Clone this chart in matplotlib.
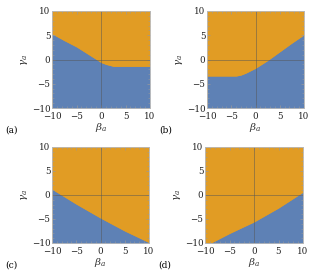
import numpy as np
import matplotlib
matplotlib.use("Agg")
import matplotlib.pyplot as plt
from matplotlib.ticker import MultipleLocator

# Boundary curves gamma_a(beta_a): blue region below, orange above
beta_a = [-10, -7.5, -5, -2.5, 0, 1, 2.5, 5, 7.5, 10]
gamma_a_boundary = [5.3, 3.9, 2.6, 1.0, -0.6, -1.0, -1.4, -1.4, -1.4, -1.4]

beta_b = [-10, -4, -3, -2, 0, 2.5, 5, 7.5, 10]
gamma_b_boundary = [-3.4, -3.4, -3.2, -2.8, -1.8, -0.2, 1.6, 3.4, 5.1]

beta_c = [-10, -5, 0, 5, 10]
gamma_c_boundary = [1.2, -1.9, -4.8, -7.5, -9.9]

beta_d = [-10, -8.8, -5, 0, 5, 10]
gamma_d_boundary = [-10.6, -10.0, -8.0, -5.6, -2.7, 0.6]

panel_labels = ["(a)", "(b)", "(c)", "(d)"]
ticks = [-10, -5, 0, 5, 10]
tick_labels = ["\u221210", "\u22125", "0", "5", "10"]

BLUE = "#5E81B5"
ORANGE = "#E19C24"

plt.rcParams['font.family'] = ['DejaVu Serif']
plt.rcParams['mathtext.fontset'] = 'dejavuserif'
fig = plt.figure(figsize=(3.15, 2.75), dpi=100)

rects = [
    (52/315, 1-108/275, 98/315, 97/275),
    (207/315, 1-108/275, 97/315, 97/275),
    (52/315, 1-243/275, 97/315, 96/275),
    (205/315, 1-243/275, 98/315, 96/275),
]
data = [(beta_a, gamma_a_boundary), (beta_b, gamma_b_boundary),
        (beta_c, gamma_c_boundary), (beta_d, gamma_d_boundary)]
label_pos = [(5/315, 1-130/275), (159/315, 1-130/275),
             (5/315, 1-265/275), (158/315, 1-265/275)]

for rect, (bx, gy), lab, lp in zip(rects, data, panel_labels, label_pos):
    ax = fig.add_axes(rect)
    ax.set_facecolor(ORANGE)
    ax.fill_between(bx, -12, gy, color=BLUE, lw=0)
    ax.fill_between(bx, gy, 12, color=ORANGE, lw=0)
    ax.axhline(0, color="#555555", lw=0.5, alpha=0.7)
    ax.axvline(0, color="#555555", lw=0.5, alpha=0.7)
    ax.set_xlim(-10, 10)
    ax.set_ylim(-10, 10)
    ax.set_xticks(ticks)
    ax.set_xticklabels(tick_labels)
    ax.set_yticks(ticks)
    ax.set_yticklabels(tick_labels)
    ax.xaxis.set_minor_locator(MultipleLocator(1))
    ax.yaxis.set_minor_locator(MultipleLocator(1))
    ax.tick_params(which="both", direction="in", color="#999999", labelsize=6.3,
                   top=True, right=True, labelcolor="#222222")
    ax.tick_params(axis="x", which="major", pad=2.6)
    ax.tick_params(axis="y", which="major", pad=1.2)
    ax.tick_params(which="major", length=2.5, width=0.5)
    ax.tick_params(which="minor", length=1.2, width=0.4)
    for s in ax.spines.values():
        s.set_color("#bbbbbb")
        s.set_linewidth(0.6)
    ax.set_xlabel(r"$\beta_a$", fontsize=7.5, labelpad=0.5, color="#333333")
    ax.set_ylabel(r"$\gamma_a$", fontsize=7.5, labelpad=1, color="#333333")
    fig.text(lp[0], lp[1], lab, fontsize=6.5, ha="left", va="center")

fig.savefig("out.png", dpi=100)
